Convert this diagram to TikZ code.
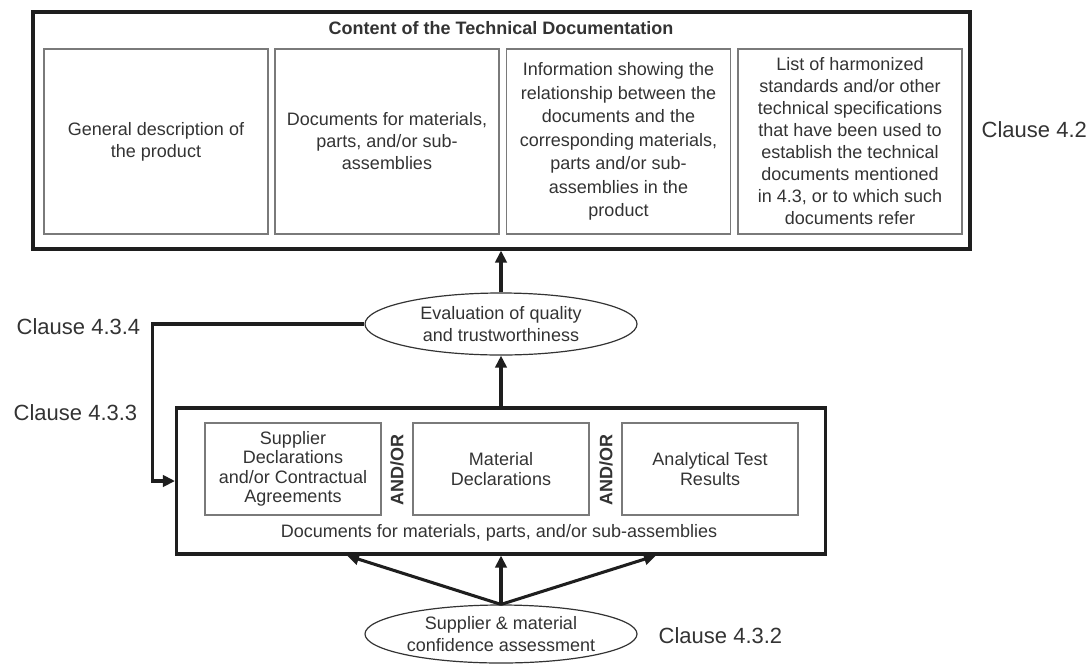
\documentclass[tikz,border=0pt]{standalone}
\usepackage{fontspec}
\setmainfont{Liberation Sans}
\usetikzlibrary{shapes.geometric,arrows.meta,calc}
\definecolor{ink}{HTML}{333333}
\definecolor{frame}{HTML}{1E1E1E}
\definecolor{rulegray}{HTML}{7A7A7A}
\def\px{0.75pt}
\def\boxfont{\fontsize{13.5}{16.5}\selectfont}

\begin{document}
\begin{tikzpicture}[x=\px,y=-\px,
    every node/.style={text=ink,font=\boxfont},
    group/.style={draw=frame,line width=2.3pt,inner sep=0pt},
    item/.style={draw=rulegray,line width=1.4pt,align=center,inner sep=0pt,
      minimum width=224*\px,minimum height=185*\px},
    subitem/.style={draw=rulegray,line width=1.4pt,align=center,inner sep=0pt,
      minimum width=176*\px,minimum height=92*\px,font=\fontsize{13.5}{14.5}\selectfont},
    oval/.style={ellipse,draw=ink,line width=0.9pt,align=center,inner sep=0pt,
      minimum width=272*\px},
    andor/.style={rotate=90,font=\bfseries\fontsize{13.5}{14.5}\selectfont},
    clause/.style={anchor=west,font=\fontsize{16.5}{20}\selectfont},
    flow/.style={draw=frame,line width=2.3pt,-{Triangle[length=9pt,width=8.5pt]}}]
  \useasboundingbox (0,0) rectangle (1087,664);

  % technical documentation
  \node[group,minimum width=937*\px,minimum height=237*\px] (content) at (501.5,130.5) {};
  \node[font=\bfseries\boxfont] (title) at (501,28) {Content of the Technical Documentation};
  \node[item] (general) at (156,141.5) {General description of\\the product};
  \node[item] (parts) at (387,141.5) {Documents for materials,\\parts, and/or sub-\\assemblies};
  \node[item,font=\fontsize{13.5}{17.6}\selectfont] (relation) at (618.5,141.5)
    {Information showing the\\relationship between the\\documents and the\\corresponding materials,\\parts and/or sub-\\assemblies in the\\product};
  \node[item] (standards) at (850,141.5)
    {List of harmonized\\standards and/or other\\technical specifications\\that have been used to\\establish the technical\\documents mentioned\\in 4.3, or to which such\\documents refer};
  \node[clause] (c42) at (977,130) {Clause 4.2};

  % evaluation
  \node[oval,minimum height=62*\px] (eval) at (501,324) {Evaluation of quality\\and trustworthiness};
  \node[clause] (c434) at (12,327) {Clause 4.3.4};

  % documents for materials
  \node[group,minimum width=649*\px,minimum height=146*\px] (docs) at (501,481) {};
  \node[subitem] (supplier) at (293,469) {Supplier\\Declarations\\and/or Contractual\\Agreements};
  \node[subitem] (material) at (501,469) {Material\\Declarations};
  \node[subitem] (analytic) at (710,469) {Analytical Test\\Results};
  \node[andor] (or1) at (397,470) {AND/OR};
  \node[andor] (or2) at (606,470) {AND/OR};
  \node (caption) at (499,533) {Documents for materials, parts, and/or sub-assemblies};
  \node[clause] (c433) at (9,413) {Clause 4.3.3};

  % assessment
  \node[oval,minimum height=58*\px] (assess) at (501,634) {Supplier \& material\\confidence assessment};
  \node[clause] (c432) at (654,636) {Clause 4.3.2};

  \draw[flow] (eval.north) -- (eval.north |- content.south);
  \draw[flow] (docs.north) -- (eval.south);
  \draw[flow] (eval.west) -- ++(-212,0) |- (docs.west);
  \draw[flow] (assess.north) -- ($(docs.south)+(-154,0)$);
  \draw[flow] (assess.north) -- (docs.south);
  \draw[flow] (assess.north) -- ($(docs.south)+(155,0)$);
\end{tikzpicture}
\end{document}
